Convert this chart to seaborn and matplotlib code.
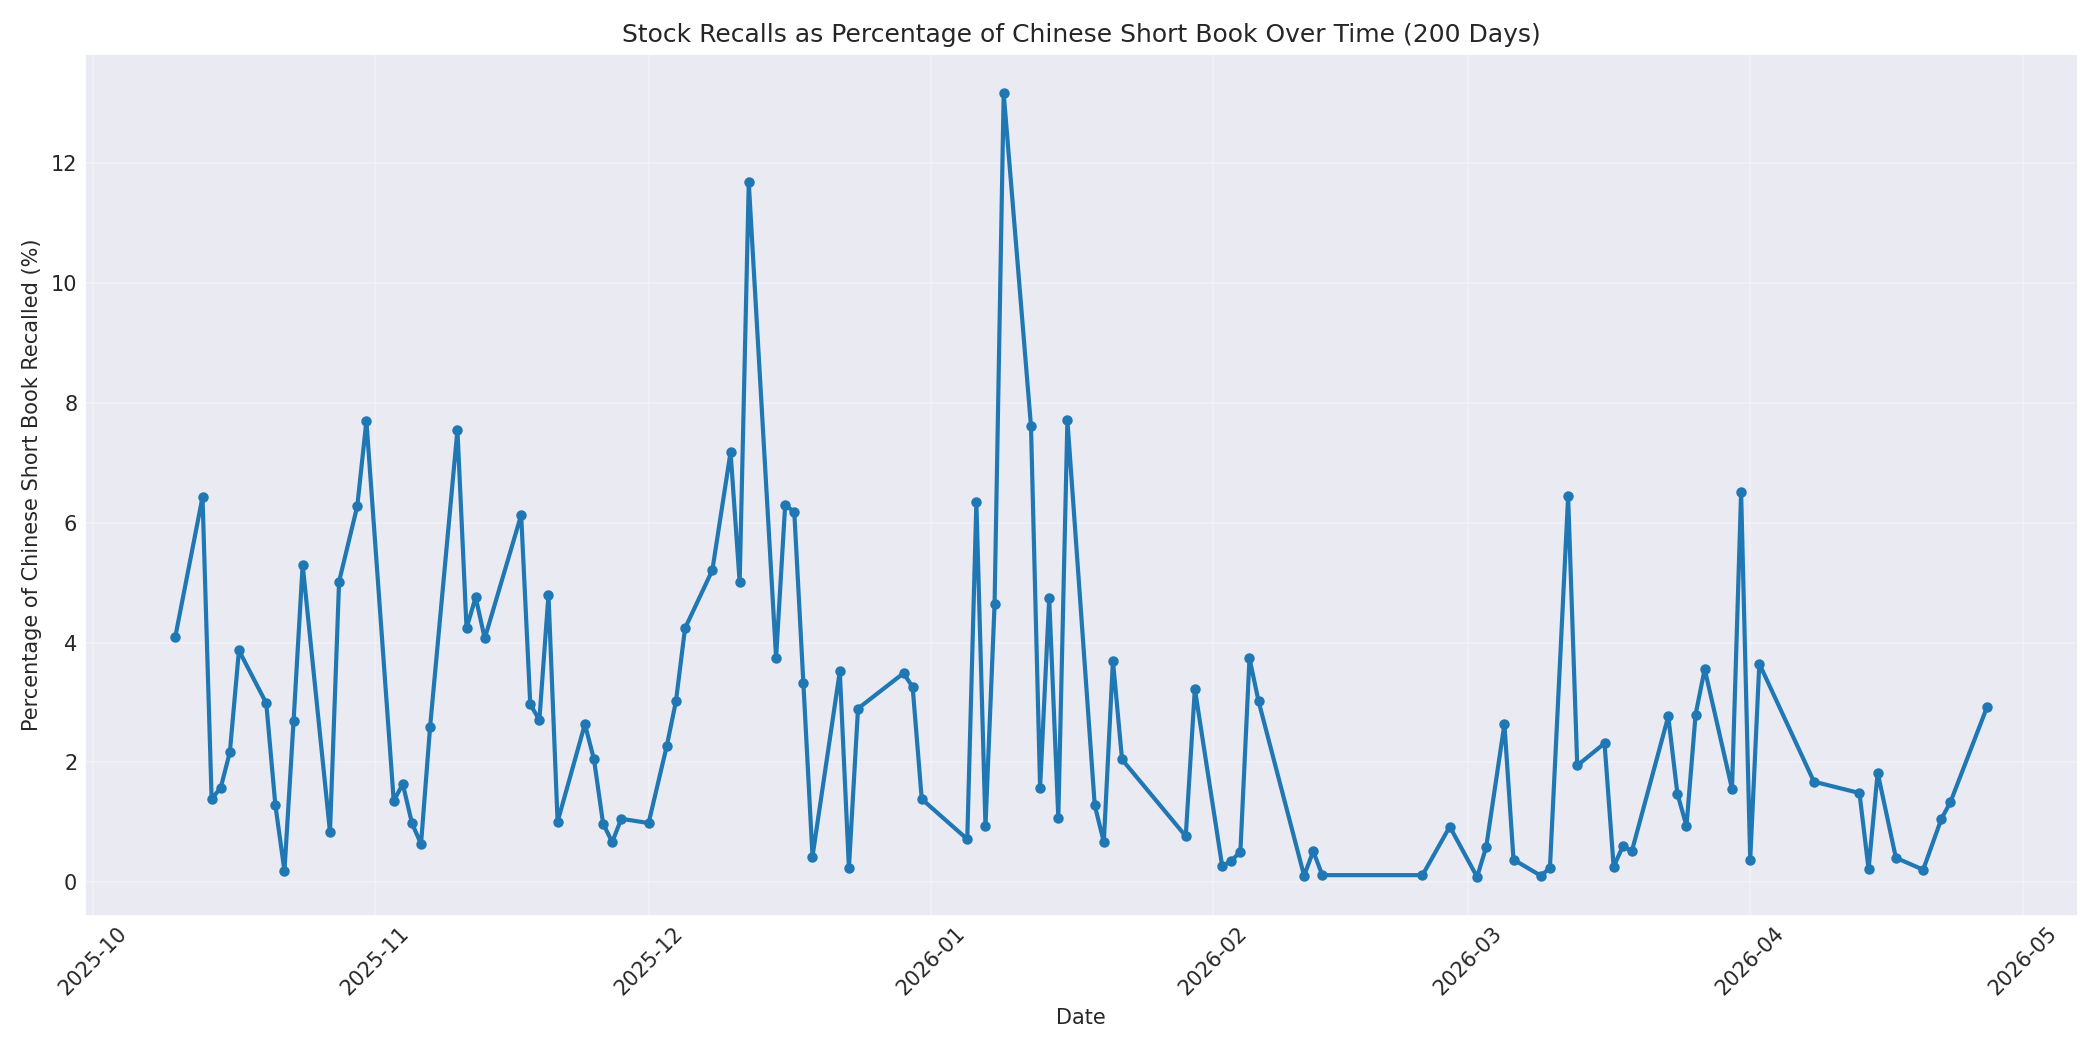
import pandas as pd
import numpy as np
import matplotlib
matplotlib.use("Agg")
import matplotlib.pyplot as plt
import seaborn as sns

# Recall data (business days, some missing)
dates = [
    "2025-10-10", "2025-10-13", "2025-10-14", "2025-10-15", "2025-10-16", "2025-10-17",
    "2025-10-20", "2025-10-21", "2025-10-22", "2025-10-23", "2025-10-24", "2025-10-27",
    "2025-10-28", "2025-10-30", "2025-10-31", "2025-11-03", "2025-11-04", "2025-11-05",
    "2025-11-06", "2025-11-07", "2025-11-10", "2025-11-11", "2025-11-12", "2025-11-13",
    "2025-11-17", "2025-11-18", "2025-11-19", "2025-11-20", "2025-11-21", "2025-11-24",
    "2025-11-25", "2025-11-26", "2025-11-27", "2025-11-28", "2025-12-01", "2025-12-03",
    "2025-12-04", "2025-12-05", "2025-12-08", "2025-12-10", "2025-12-11", "2025-12-12",
    "2025-12-15", "2025-12-16", "2025-12-17", "2025-12-18", "2025-12-19", "2025-12-22",
    "2025-12-23", "2025-12-24", "2025-12-29", "2025-12-30", "2025-12-31", "2026-01-05",
    "2026-01-06", "2026-01-07", "2026-01-08", "2026-01-09", "2026-01-12", "2026-01-13",
    "2026-01-14", "2026-01-15", "2026-01-16", "2026-01-19", "2026-01-20", "2026-01-21",
    "2026-01-22", "2026-01-29", "2026-01-30", "2026-02-02", "2026-02-03", "2026-02-04",
    "2026-02-05", "2026-02-06", "2026-02-11", "2026-02-12", "2026-02-13", "2026-02-24",
    "2026-02-27", "2026-03-02", "2026-03-03", "2026-03-05", "2026-03-06", "2026-03-09",
    "2026-03-10", "2026-03-12", "2026-03-13", "2026-03-16", "2026-03-17", "2026-03-18",
    "2026-03-19", "2026-03-23", "2026-03-24", "2026-03-25", "2026-03-26", "2026-03-27",
    "2026-03-30", "2026-03-31", "2026-04-01", "2026-04-02", "2026-04-08", "2026-04-13",
    "2026-04-14", "2026-04-15", "2026-04-17", "2026-04-20", "2026-04-22", "2026-04-23",
    "2026-04-27",
]
recall_pct = [
    4.09, 6.43, 1.39, 1.58, 2.17, 3.87,
    2.99, 1.29, 0.19, 2.69, 5.30, 0.84,
    5.02, 6.28, 7.70, 1.36, 1.64, 0.99,
    0.64, 2.60, 7.55, 4.24, 4.76, 4.07,
    6.13, 2.97, 2.71, 4.80, 1.01, 2.64,
    2.05, 0.98, 0.67, 1.06, 0.99, 2.28,
    3.02, 4.24, 5.21, 7.18, 5.01, 11.68,
    3.75, 6.30, 6.18, 3.32, 0.43, 3.52,
    0.24, 2.90, 3.49, 3.26, 1.39, 0.72,
    6.34, 0.94, 4.64, 13.17, 7.61, 1.58,
    4.74, 1.08, 7.71, 1.29, 0.67, 3.70,
    2.05, 0.77, 3.23, 0.27, 0.36, 0.51,
    3.74, 3.02, 0.11, 0.52, 0.12, 0.12,
    0.93, 0.09, 0.59, 2.64, 0.38, 0.11,
    0.24, 6.44, 1.95, 2.32, 0.26, 0.60,
    0.52, 2.77, 1.48, 0.94, 2.80, 3.56,
    1.56, 6.51, 0.37, 3.65, 1.68, 1.49,
    0.22, 1.83, 0.41, 0.21, 1.06, 1.34,
    2.92,
]

df = pd.DataFrame({"Date": pd.to_datetime(dates), "Recall": recall_pct})

sns.set_style("darkgrid")
fig, ax = plt.subplots(figsize=(14, 7), dpi=150)

sns.lineplot(data=df, x="Date", y="Recall", ax=ax, color="#1f77b4",
             linewidth=2, marker="o", markersize=4, markeredgewidth=1,
             markeredgecolor="#1f77b4")

ax.set_title("Stock Recalls as Percentage of Chinese Short Book Over Time (200 Days)",
             fontsize=12)
ax.set_xlabel("Date", fontsize=10)
ax.set_ylabel("Percentage of Chinese Short Book Recalled (%)", fontsize=10)
ax.tick_params(axis="both", labelsize=10, length=0)
ax.grid(True, alpha=0.3)
plt.xticks(rotation=45)
plt.tight_layout()
plt.savefig("out.png", dpi=150)
